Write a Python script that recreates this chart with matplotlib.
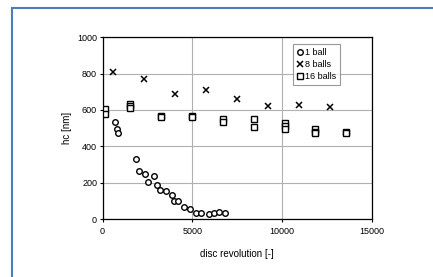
import matplotlib
matplotlib.use("Agg")
import matplotlib.pyplot as plt
from matplotlib.patches import Rectangle

plt.rcParams["font.family"] = ["Liberation Sans", "DejaVu Sans"]

# 1 ball
x_1 = [705, 780, 872, 1856, 2042, 2339, 2524, 2858, 3007, 3174, 3508, 3842,
       3990, 4176, 4510, 4844, 5197, 5494, 5902, 6199, 6496, 6830]
y_1 = [531, 493, 474, 333, 262, 249, 205, 238, 189, 159, 154, 134,
       101, 97, 64, 53, 35, 35, 27, 35, 38, 33]

# 8 balls
x_8 = [594, 2320, 4028, 5754, 7480, 9187, 10913, 12639]
y_8 = [810, 771, 685, 707, 661, 623, 626, 617]

# 16 balls
x_16 = [148, 148, 1540, 1540, 1540, 3267, 3267, 4974, 4974, 6682, 6682,
        8426, 8426, 10134, 10134, 10134, 11841, 11841, 11841, 13568, 13568]
y_16 = [605, 580, 630, 620, 610, 565, 562, 567, 563, 548, 535,
        548, 507, 529, 513, 496, 493, 480, 471, 478, 474]

fig = plt.figure(figsize=(4.33, 2.77), dpi=100)
fig.patches.append(Rectangle((0.027, -0.1), 1.2, 1.07, transform=fig.transFigure,
                             fill=False, edgecolor="#4a7ebb", linewidth=1.5))
ax = fig.add_axes([0.237, 0.209, 0.622, 0.657])

ms = 4.0
ax.plot(x_1, y_1, "o", ls="none", mfc="white", mec="black", mew=1.0, ms=ms, label="1 ball")
ax.plot(x_8, y_8, "x", ls="none", color="black", mew=1.1, ms=ms, label="8 balls")
ax.plot(x_16, y_16, "s", ls="none", mfc="white", mec="black", mew=1.0, ms=ms, label="16 balls")

ax.set_xlim(0, 15000)
ax.set_ylim(0, 1000)
ax.set_xticks([0, 5000, 10000, 15000])
ax.set_yticks([0, 200, 400, 600, 800, 1000])
ax.grid(True, color="#b0b0b0", linewidth=0.8)
ax.set_axisbelow(True)
ax.tick_params(labelsize=6.5, length=2, width=0.8, direction="out", pad=2)
ax.tick_params(axis="x", pad=4)
for s in ax.spines.values():
    s.set_linewidth(0.9)
    s.set_color("black")

ax.set_xlabel("disc revolution [-]", fontsize=7, labelpad=9)
ax.set_ylabel("hc [nm]", fontsize=7, labelpad=4)

leg = ax.legend(loc="upper left", bbox_to_anchor=(0.707, 0.962), fontsize=6.5,
                frameon=True, fancybox=False, handlelength=0.6, handletextpad=0.25,
                borderpad=0.45, borderaxespad=0, labelspacing=0.35)
leg.get_frame().set_edgecolor("#808080")
leg.get_frame().set_linewidth(0.8)

fig.savefig("out.png", dpi=100)
